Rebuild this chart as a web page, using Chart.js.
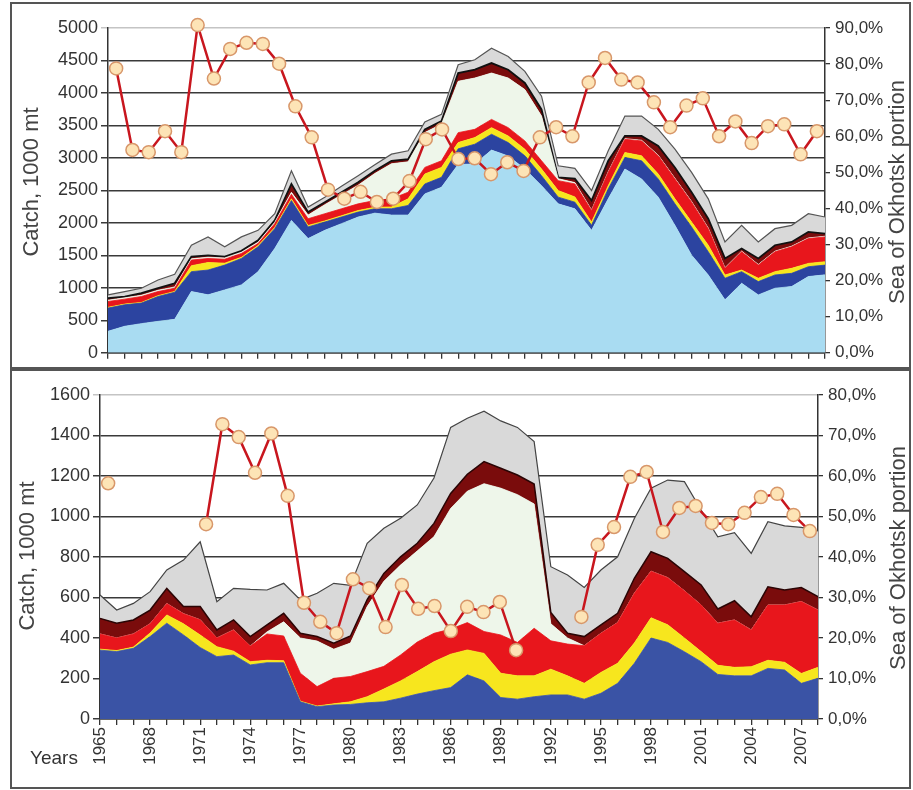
<!DOCTYPE html>
<html><head><meta charset="utf-8">
<script src="https://cdn.jsdelivr.net/npm/chart.js@4.4.0/dist/chart.umd.min.js"></script>
<style>
html,body{margin:0;padding:0;background:#fff;width:913px;height:790px;overflow:hidden;font-family:"Liberation Sans",Arial,sans-serif;}
canvas{position:absolute;}
.frame{position:absolute;border:2px solid #555;box-sizing:border-box;pointer-events:none;}
.ttl{position:absolute;white-space:nowrap;color:#444;font-size:22px;transform:translate(-50%,-50%) rotate(-90deg);}
.yrs{position:absolute;color:#333;font-size:19px;transform:translate(-50%,-50%);}
</style></head><body>
<canvas id="c1" width="898" height="364" style="left:12px;top:4px;"></canvas>
<canvas id="c2" width="898" height="416" style="left:12px;top:371px;"></canvas>
<div class="frame" style="left:10px;top:2px;width:901px;height:367px;"></div>
<div class="frame" style="left:10px;top:369px;width:901px;height:420px;"></div>
<div class="ttl" style="left:31px;top:182px;">Catch, 1000 mt</div>
<div class="ttl" style="left:897px;top:192px;">Sea of Okhotsk portion</div>
<div class="ttl" style="left:27px;top:556px;">Catch, 1000 mt</div>
<div class="ttl" style="left:898px;top:558px;">Sea of Okhotsk portion</div>
<div class="yrs" style="left:54px;top:758px;">Years</div>
<script>
const years = ['1965','1966','1967','1968','1969','1970','1971','1972','1973','1974',
'1975','1976','1977','1978','1979','1980','1981','1982','1983','1984',
'1985','1986','1987','1988','1989','1990','1991','1992','1993','1994',
'1995','1996','1997','1998','1999','2000','2001','2002','2003','2004',
'2005','2006','2007','2008'];

// ---- Top panel: upper edge of each stacked layer (catch, 1000 mt) ----
const topLightBlue = [331,408,449,484,515,943,892,968,1045,1249, 1605,2038,1758,1885,1988,2090,2150,2120,2120,2446, 2548,2900,2905,3120,3030,2830,2573,2293,2217,1885, 2370,2829,2676,2396,1962,1503,1197,815,1070,891, 994,1020,1173,1200];
const topDarkBlue = [688,739,765,866,932,1249,1274,1350,1452,1631, 1911,2344,1937,2013,2090,2166,2217,2217,2268,2599, 2701,3140,3211,3364,3236,3032,2726,2396,2319,1962, 2523,3007,2956,2676,2293,1937,1555,1147,1249,1096, 1198,1223,1325,1350];
const topYellow = [700,750,775,880,945,1340,1390,1380,1470,1650, 1930,2370,1960,2030,2110,2190,2240,2245,2370,2752, 2854,3236,3313,3466,3338,3134,2829,2497,2400,2013, 2573,3083,3032,2752,2370,2013,1656,1197,1274,1147, 1249,1300,1376,1402];
const topRed = [790,826,866,943,994,1427,1452,1440,1529,1682, 1988,2440,2064,2141,2217,2293,2344,2370,2472,2854, 2956,3389,3440,3593,3466,3262,2956,2650,2600,2191, 2778,3287,3262,3032,2676,2319,1911,1300,1555,1350, 1555,1631,1758,1784];
const topPaleGreen = [810,846,886,963,1014,1447,1472,1460,1549,1702, 2008,2470,2120,2280,2430,2580,2760,2910,2940,3390, 3520,4180,4230,4307,4230,4052,3644,2680,2620,2200, 2788,3297,3272,3042,2686,2329,1921,1310,1565,1360, 1565,1641,1768,1794];
const topDarkRed = [841,866,917,994,1070,1480,1500,1480,1570,1733, 2038,2600,2166,2319,2472,2625,2803,2956,2982,3440, 3567,4307,4358,4460,4358,4154,3746,2701,2680,2344, 2956,3338,3338,3185,2854,2472,2064,1453,1605,1453, 1656,1707,1860,1835];
const topGray = [892,943,994,1121,1208,1656,1784,1631,1784,1885, 2141,2803,2243,2396,2564,2726,2895,3058,3109,3552, 3670,4434,4511,4690,4562,4332,3950,2879,2840,2497, 3109,3644,3644,3440,3134,2778,2370,1707,1962,1707, 1911,1962,2141,2090];
const topShare = [78.8,56.2,55.6,61.4,55.6,90.8,76.0,84.2,85.9,85.6, 80.1,68.3,59.7,45.2,42.7,44.6,41.8,42.7,47.6,59.2, 61.9,53.7,53.9,49.5,52.8,50.4,59.7,62.5,60.0,74.9, 81.7,75.7,74.9,69.4,62.5,68.5,70.5,60.0,64.1,58.1, 62.8,63.3,55.0,61.4];

// ---- Bottom panel: upper edge of each stacked layer (catch, 1000 mt) ----
const botBlue = [340,333,349,407,473,415,353,308,316,267, 278,278,85,61,69,72,80,85,103,123, 140,155,218,188,106,98,110,119,119,98, 127,176,275,400,378,332,283,220,213,213, 250,242,176,201];
const botYellow = [345,338,355,425,514,470,415,357,335,283, 290,288,88,64,75,85,110,148,188,234, 283,320,341,324,226,213,213,246,213,176, 230,275,375,500,465,400,333,265,255,258, 290,280,225,255];
const botRed = [420,400,420,470,570,520,490,400,440,360, 420,410,226,160,201,210,234,260,316,380, 423,444,476,432,415,378,448,386,370,362, 423,476,621,730,698,633,563,473,489,440, 563,563,580,538];
const botPaleGreen = [420,400,420,470,570,520,490,400,440,360, 430,480,400,385,345,375,555,680,760,830, 900,1040,1125,1162,1140,1108,1062,470,400,362, 423,476,621,730,698,633,563,473,489,440, 563,563,580,538];
const botDarkRed = [497,473,489,538,645,555,555,440,489,407, 465,522,423,407,374,410,590,719,801,868, 966,1114,1209,1271,1238,1205,1160,526,423,407, 465,522,695,826,793,728,662,543,584,505, 653,637,649,604];
const botGray = [612,538,571,629,736,785,875,579,645,640, 637,670,588,621,670,660,868,942,991,1057, 1190,1440,1485,1520,1472,1440,1370,752,711,650, 736,801,990,1140,1180,1172,1032,900,920,818, 974,954,946,929];
const botShare = [58.2,null,null,null,null,null,48.1,72.8,69.6,60.8, 70.5,55.1,28.7,24.0,21.2,34.5,32.3,22.7,33.1,27.2, 27.9,21.7,27.7,26.4,28.9,17.0,null,null,null,25.2, 43.0,47.4,59.8,61.0,46.2,52.1,52.6,48.4,48.1,50.9, 54.8,55.6,50.4,46.4];

Chart.defaults.font.family = '"Liberation Sans", Arial, sans-serif';
Chart.defaults.color = '#333';

function layer(data, color, i, border, bw){
  return {type:'line', data:data, backgroundColor:color, borderColor:border||color, borderWidth:bw||0.8,
    pointRadius:0, fill: i===0 ? 'origin' : '-1', tension:0, order:2, xAxisID:'x', yAxisID:'y'};
}
function shareLine(data){
  return {type:'line', data:data, xAxisID:'x2', yAxisID:'y1', borderColor:'#c8161e', borderWidth:2.5,
    pointRadius:6.5, pointBackgroundColor:'#fde4b6', pointBorderColor:'#d8976a', pointBorderWidth:1.5,
    fill:false, spanGaps:false, tension:0, order:-1, clip:false};
}
const pct = v => v.toFixed(1).replace('.', ',') + '%';

function makeScales(o){
  return {
    x:{type:'category', labels:years, offset:false,
       grid:{drawOnChartArea:false, drawTicks:true, tickLength:6, color:'#333', lineWidth:1.3},
       border:{display:true, color:'#333', width:1.5},
       ticks: o.xLabels ? {display:true, autoSkip:false, minRotation:90, maxRotation:90, padding:2,
              font:{size:17}, color:'#333',
              callback:function(v, i){ return i % 3 === 0 ? years[i] : ''; }} : {display:false},
       afterFit(s){ s.height = o.xh; }},
    x2:{type:'category', labels:years, offset:true, display:false},
    y:{position:'left', min:0, max:o.ymax,
       ticks:{stepSize:o.ystep, font:{size:18}, color:'#333', padding:3, callback:v => String(v)},
       grid:{color:c => (c.tick && c.tick.value === o.ymax) ? '#c4c4c4' : '#3a3a3a', lineWidth:1.5, tickLength:7, drawTicks:true},
       border:{display:true, color:'#333', width:1.5},
       afterFit(s){ s.width = o.lw; }},
    y1:{position:'right', min:0, max:o.pmax,
       ticks:{stepSize:10, font:{size:17}, color:'#333', padding:5, callback:pct},
       grid:{drawOnChartArea:false, drawTicks:true, tickLength:5, color:'#333', lineWidth:1.3},
       border:{display:true, color:'#333', width:1.5},
       afterFit(s){ s.width = o.rw; }}
  };
}
const common = {responsive:false, animation:false, events:[],
  plugins:{legend:{display:false}, tooltip:{enabled:false}},
  layout:{padding:{top:24, left:0, right:0, bottom:0}}};

new Chart(document.getElementById('c1'), {
  type:'line',
  data:{labels:years, datasets:[
    layer(topLightBlue,'#a9dcf2',0),
    layer(topDarkBlue,'#2c44a0',1),
    layer(topYellow,'#f7e61e',2),
    layer(topRed,'#e8161c',3),
    layer(topPaleGreen,'#eef6ea',4),
    layer(topDarkRed,'#7a0c0c',5,'#111',1.8),
    layer(topGray,'#d9d9d9',6,'#555',1.2),
    shareLine(topShare)
  ]},
  options:Object.assign({}, common, {scales:makeScales({ymax:5000, ystep:500, pmax:90, lw:96, rw:85, xh:13, xLabels:false})})
});

new Chart(document.getElementById('c2'), {
  type:'line',
  data:{labels:years, datasets:[
    layer(botBlue,'#3a53a5',0),
    layer(botYellow,'#f7e61e',1),
    layer(botRed,'#e8161c',2),
    layer(botPaleGreen,'#eef6ea',3),
    layer(botDarkRed,'#7a0c0c',4,'#2a0505',1.5),
    layer(botGray,'#d9d9d9',5,'#444',1.2),
    shareLine(botShare)
  ]},
  options:Object.assign({}, common, {scales:makeScales({ymax:1600, ystep:200, pmax:80, lw:88, rw:92, xh:68, xLabels:true})})
});
</script>
</body></html>
